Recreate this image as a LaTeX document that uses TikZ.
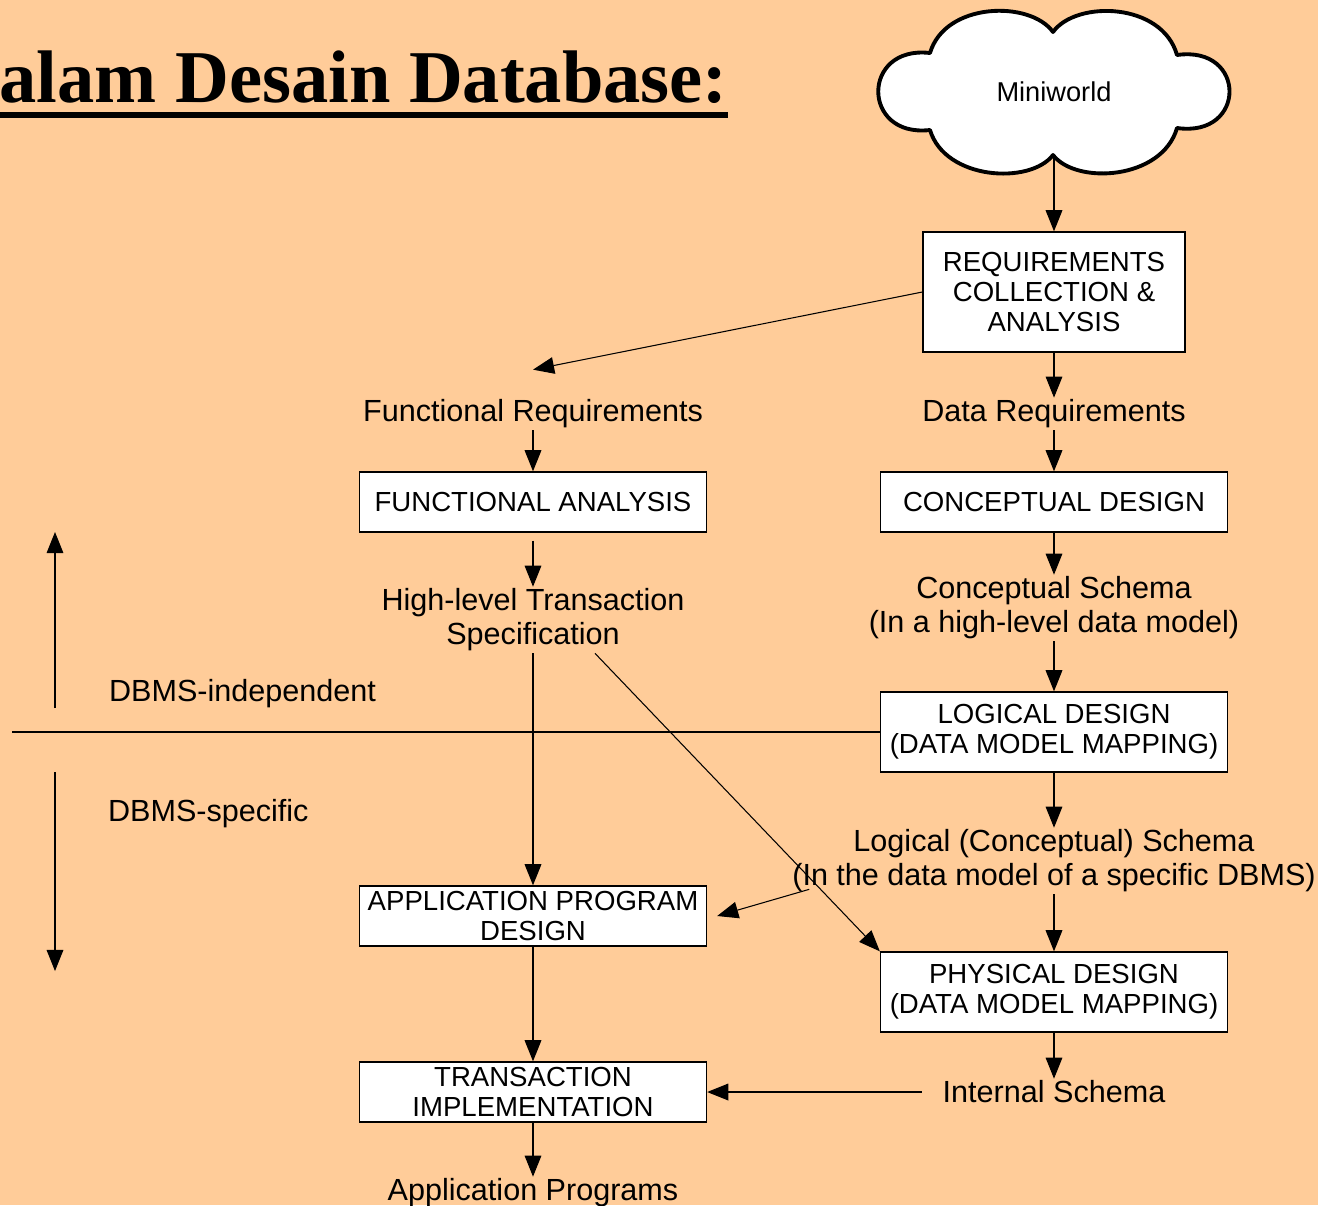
\documentclass[tikz,border=0pt]{standalone}
\usepackage{fontspec}
\setmainfont{Liberation Sans}
\newfontfamily\titlefont{Liberation Serif}
\usetikzlibrary{arrows.meta, positioning}
\definecolor{peach}{HTML}{FFCC99}

\begin{document}
\begin{tikzpicture}[
    x=0.02cm, y=-0.02cm,
    box/.style   = {draw, fill=white, line width=0.8pt, align=center,
                    font=\fontsize{15.7}{17.3}\selectfont,
                    minimum width=6.94cm, minimum height=1.2cm, inner sep=2pt},
    lbl/.style   = {align=center, inner sep=1pt,
                    font=\fontsize{17.4}{19.3}\selectfont},
    cloudbox/.style = {minimum width=6.4cm, minimum height=2.52cm, inner sep=0pt,
                    font=\fontsize{15.5}{17.3}\selectfont},
    arrow/.style = {-{Triangle[length=12pt, width=9.5pt]}, line width=0.6pt}
]

%% ── Background and title ────────────────────────────────────────────────────
\fill[peach] (0,0) rectangle (1318,1205);
\useasboundingbox (0,0) rectangle (1318,1205);
\node[anchor=base west, inner sep=0pt, font=\titlefont\bfseries\fontsize{42.4}{48}\selectfont]
    (title) at (-1,102) {alam Desain Database:};
\draw[line width=0.12cm] ([yshift=-0.26cm]title.base west) -- ([yshift=-0.26cm]title.base east);

%% ── Miniworld cloud ─────────────────────────────────────────────────────────
\draw[line width=2.2pt, fill=white, line join=round]
    (1053,32) .. controls (1030,0) and (945,2) .. (930,53)
              .. controls (861,45) and (861,138) .. (930,130)
              .. controls (945,180) and (1030,185) .. (1053,155)
              .. controls (1076,185) and (1162,180) .. (1177,128)
              .. controls (1247,138) and (1247,45) .. (1177,55)
              .. controls (1162,2) and (1076,0) .. cycle;
\node[cloudbox] (cloud) at (1054,92) {Miniworld};

%% ── Right column: data path ────────────────────────────────────────────────
\node[box, minimum width=5.24cm, minimum height=2.4cm] (req) at (1054,292)
    {REQUIREMENTS\\COLLECTION \&\\ANALYSIS};
\node[lbl] (datareq) at (1054,414) {Data Requirements};
\node[box] (concept) at (1054,502) {CONCEPTUAL DESIGN};
\node[lbl] (concschema) at (1054,608) {Conceptual Schema\\(In a high-level data model)};
\node[box, minimum height=1.6cm] (logical) at (1054,732) {LOGICAL DESIGN\\(DATA MODEL MAPPING)};
\node[lbl] (logschema) at (1054,861)
    {Logical (Conceptual) Schema\\(In the data model of a specific DBMS)};
\node[box, minimum height=1.6cm] (phys) at (1054,992) {PHYSICAL DESIGN\\(DATA MODEL MAPPING)};
\node[lbl] (intschema) at (1054,1092) {Internal Schema};

%% ── Left column: functional path ───────────────────────────────────────────
\node[lbl] (funreq) at (533,414) {Functional Requirements};
\node[box] (funcana) at (funreq |- concept) {FUNCTIONAL ANALYSIS};
\node[lbl] (hlspec) at (533,620) {High-level Transaction\\Specification};
\node[box] (apd) at (533,916) {APPLICATION PROGRAM\\DESIGN};
\node[box] (trans) at (funreq |- intschema) {TRANSACTION\\IMPLEMENTATION};
\node[lbl] (appprog) at (533,1193) {Application Programs};

%% ── DBMS-independent / DBMS-specific ───────────────────────────────────────
\coordinate (divl) at (12,732);
\coordinate (upb) at (55,708);
\coordinate (upt) at (55,532);
\coordinate (dnt) at (55,772);
\coordinate (dnb) at (55,971);
\node[lbl, anchor=west] (indep) at (107,694) {DBMS-independent};
\node[lbl, anchor=west] (spec) at (106,814) {DBMS-specific};
\draw[line width=0.6pt] (divl) -- (logical.west);
\draw[arrow] (upb) -- (upt);
\draw[arrow] (dnt) -- (dnb);

%% ── Connectors ─────────────────────────────────────────────────────────────
\draw[arrow] (cloud.south) -- (req.north);
\draw[arrow] (req.west) -- ([yshift=0.56cm]funreq.north);
\draw[arrow] (req.south) -- (datareq.north);
\draw[arrow] (datareq.south) -- (concept.north);
\draw[arrow] (concept.south) -- (concschema.north);
\draw[arrow] (concschema.south) -- (logical.north);
\draw[arrow] (logical.south) -- (logschema.north);
\draw[arrow] (logschema.south) -- (phys.north);
\draw[arrow] (phys.south) -- (intschema.north);

\draw[arrow] (funreq.south) -- (funcana.north);
\draw[arrow] ([yshift=-0.16cm]funcana.south) -- (hlspec.north);
\draw[arrow] (hlspec.south) -- (apd.north);
\draw[arrow] ([xshift=1.24cm]hlspec.south) -- (phys.north west);
\draw[arrow] ([xshift=0.38cm, yshift=0.1cm]logschema.south west) -- ([xshift=0.2cm]apd.east);
\draw[arrow] (apd.south) -- (trans.north);
\draw[arrow] ([xshift=-0.38cm]intschema.west) -- (trans.east);
\draw[arrow] (trans.south) -- (appprog.north);

\end{tikzpicture}
\end{document}
